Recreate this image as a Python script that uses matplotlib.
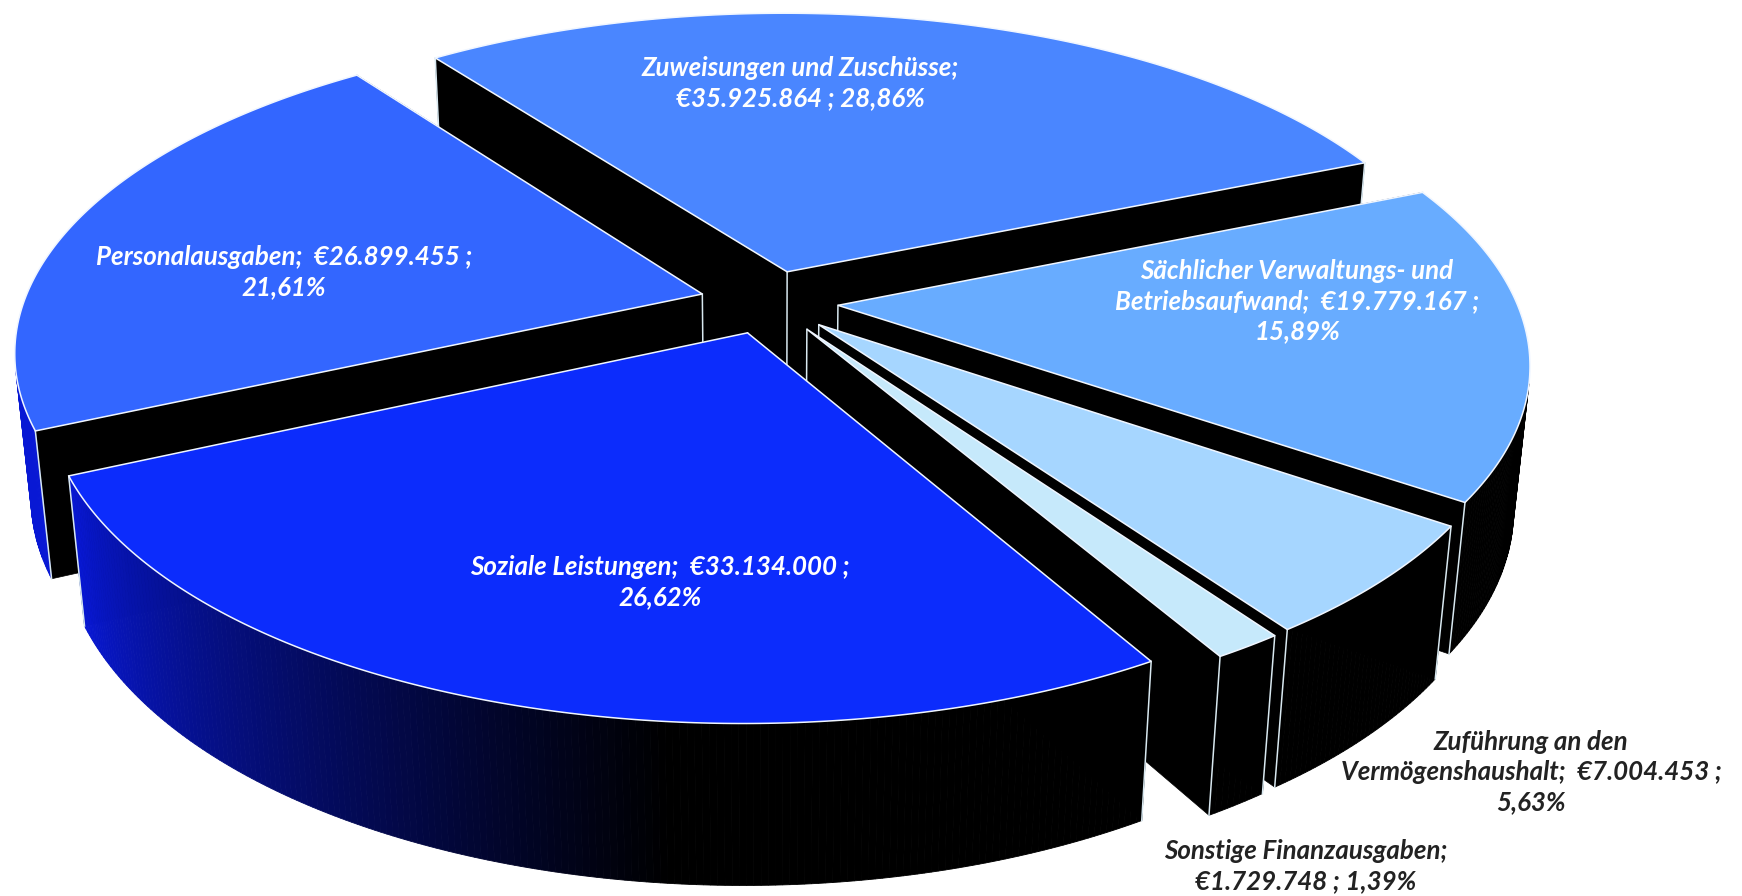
import numpy as np
import matplotlib
matplotlib.use("Agg")
import matplotlib.pyplot as plt
from matplotlib.patches import Polygon

names = [
    "Zuweisungen und Zuschüsse",
    "Sächlicher Verwaltungs- und Betriebsaufwand",
    "Zuführung an den Vermögenshaushalt",
    "Sonstige Finanzausgaben",
    "Soziale Leistungen",
    "Personalausgaben",
]
values = [35925864, 19779167, 7004453, 1729748, 33134000, 26899455]
colors = ["#4a86ff", "#68acff", "#a6d6ff", "#c6e9fb", "#0c2cfc", "#3366ff"]
labels = [
    "Zuweisungen und Zuschüsse;\n€35.925.864 ; 28,86%",
    "Sächlicher Verwaltungs- und\nBetriebsaufwand;  €19.779.167 ;\n15,89%",
    "Zuführung an den\nVermögenshaushalt;  €7.004.453 ;\n5,63%",
    "Sonstige Finanzausgaben;\n€1.729.748 ; 1,39%",
    "Soziale Leistungen;  €33.134.000 ;\n26,62%",
    "Personalausgaben;  €26.899.455 ;\n21,61%",
]
label_xy = [(800, 83), (1297, 301), (1531, 772), (1306, 866), (660, 582), (284, 272)]
label_colors = ["white", "white", "#222222", "#222222", "white", "white"]

start_angle = -36.5
explode = 0.102
height = 0.239

# camera
cx, cy = 769, 302
elev = np.radians(27.4)
dist = 5.2
focal = 3528


def project(x, y, z):
    s, c = np.sin(elev), np.cos(elev)
    depth = dist + y * c - z * s
    return cx + focal * x / depth, cy - focal * (y * s + z * c) / depth


def rim(theta, ox, oy, z):
    t = np.radians(theta)
    return project(ox + np.sin(t), oy + np.cos(t), z * np.ones_like(t))


def faces_camera(theta, ox, oy):
    t = np.radians(theta)
    return ox * np.sin(t) + oy * np.cos(t) + 1 + dist * np.cos(elev) * np.cos(t) < 0


def wall_shade(theta):
    f = np.clip((theta - 185) / 60, 0, 1)
    return np.array(matplotlib.colors.to_rgb("#0818d4")) * f


fig = plt.figure(figsize=(17.42, 8.96), dpi=100)
ax = fig.add_axes([0, 0, 1, 1])
ax.set_xlim(0, 1742)
ax.set_ylim(896, 0)
ax.axis("off")

shares = np.array(values) / sum(values) * 360
ends = start_angle + np.cumsum(shares)
starts = ends - shares
mids = (starts + ends) / 2

z = 1
for i in np.argsort(-np.cos(np.radians(mids))):
    t0, t1 = starts[i], ends[i]
    ox = explode * np.sin(np.radians(mids[i]))
    oy = explode * np.cos(np.radians(mids[i]))
    thetas = np.linspace(t0, t1, max(int(shares[i]) * 2, 6))
    top_x, top_y = rim(thetas, ox, oy, 0)
    bot_x, bot_y = rim(thetas, ox, oy, -height)
    ax0, ay0 = project(ox, oy, 0)
    bx0, by0 = project(ox, oy, -height)

    # radial walls
    for j in (0, -1):
        ax.add_patch(Polygon([(ax0, ay0), (top_x[j], top_y[j]), (bot_x[j], bot_y[j]), (bx0, by0)],
                             closed=True, fc="black", ec="black", lw=0.5, zorder=z))
    # outer wall, cut into strips for the shading
    for j in range(len(thetas) - 1):
        if not faces_camera((thetas[j] + thetas[j + 1]) / 2, ox, oy):
            continue
        col = wall_shade(thetas[j] % 360)
        ax.add_patch(Polygon([(top_x[j], top_y[j]), (top_x[j + 1], top_y[j + 1]),
                              (bot_x[j + 1], bot_y[j + 1]), (bot_x[j], bot_y[j])],
                             closed=True, fc=col, ec=col, lw=0.6, zorder=z))
    # white vertical edges
    ax.plot([ax0, bx0], [ay0, by0], color="#d8e8f0", lw=1.1, zorder=z)
    for j in (0, -1):
        ax.plot([top_x[j], bot_x[j]], [top_y[j], bot_y[j]], color="#d8e8f0", lw=1.1, zorder=z)
    # top face
    pts = np.column_stack([np.r_[ax0, top_x], np.r_[ay0, top_y]])
    ax.add_patch(Polygon(pts, closed=True, fc=colors[i], ec="#f0f6ff", lw=1.1,
                         joinstyle="miter", zorder=z + 0.5))
    z += 1

for lab, (lx, ly), col in zip(labels, label_xy, label_colors):
    ax.text(lx, ly, lab, color=col, ha="center", va="center", fontsize=18.6, zorder=z,
            family="Lato", weight="bold", style="italic", linespacing=1.32)

fig.savefig("out.png", dpi=100, facecolor="white")
